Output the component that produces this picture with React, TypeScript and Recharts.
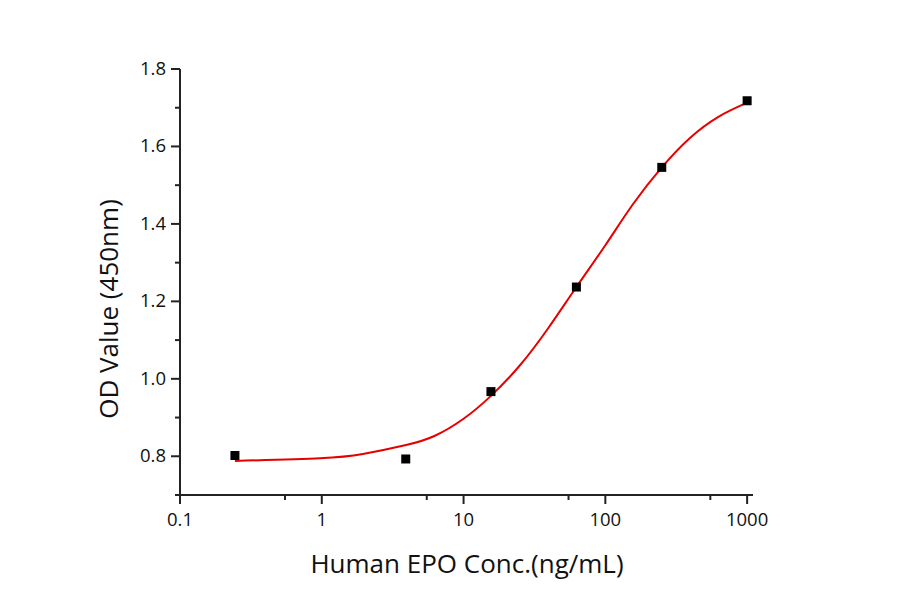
import { ComposedChart, Line, Scatter, XAxis, YAxis } from "recharts";

const FONT = "'Open Sans', Lato, sans-serif";
const AXIS_COLOR = "#222";

// measured points
const concentrations = [0.244, 3.91, 15.6, 62.5, 250, 1000];
const odValues = [0.802, 0.793, 0.967, 1.237, 1.546, 1.718];

// fitted curve
const fitConc = [0.244, 0.97, 1.95, 3.93, 6.28, 10, 15.6, 25, 39.4, 62.5, 100, 156, 250, 395, 623, 1000];
const fitOD = [0.788, 0.795, 0.806, 0.829, 0.853, 0.897, 0.956, 1.035, 1.13, 1.237, 1.345, 1.45, 1.546, 1.622, 1.676, 1.713];

const xMajorTicks = [0.1, 1, 10, 100, 1000];
const xMinorTicks = [0.55, 5.5, 55, 550];
const yMajorTicks = [0.8, 1.0, 1.2, 1.4, 1.6, 1.8];
const yMinorTicks = [0.7, 0.9, 1.1, 1.3, 1.5, 1.7];

const points = concentrations.map((x, i) => ({ x, y: odValues[i] }));
const curve = fitConc.map((x, i) => ({ x, y: fitOD[i] }));

const XTick = (props: any) => {
  const { x, y, payload } = props;
  const major = xMajorTicks.includes(payload.value);
  return (
    <g>
      <line x1={x} y1={y} x2={x} y2={y + (major ? 9 : 5)} stroke={AXIS_COLOR} strokeWidth={2} />
      {major && (
        <text x={x} y={y + 31} textAnchor="middle" fontSize={18.5} fontFamily={FONT} fill="#111">
          {String(payload.value)}
        </text>
      )}
    </g>
  );
};

const YTick = (props: any) => {
  const { x, y, payload } = props;
  const major = yMajorTicks.includes(payload.value);
  return (
    <g>
      <line x1={x} y1={y} x2={x - (major ? 9 : 5)} y2={y} stroke={AXIS_COLOR} strokeWidth={2} />
      {major && (
        <text x={x - 14} y={y + 6} textAnchor="end" fontSize={18.5} fontFamily={FONT} fill="#111">
          {payload.value.toFixed(1)}
        </text>
      )}
    </g>
  );
};

const Square = (props: any) => {
  const { cx, cy } = props;
  return <rect x={cx - 4.5} y={cy - 4.5} width={9} height={9} fill="#000" />;
};

export default function App() {
  return (
    <div style={{ position: "absolute", left: 0, top: 0, width: 900, height: 594, background: "#fff" }}>
      <ComposedChart width={900} height={594} margin={{ top: 69, right: 147, bottom: 0, left: 0 }}>
        <XAxis
          type="number"
          dataKey="x"
          scale="log"
          domain={[0.1, 1100]}
          allowDataOverflow
          ticks={[...xMajorTicks, ...xMinorTicks]}
          interval={0}
          tickSize={0}
          tickMargin={0}
          tick={<XTick />}
          height={99}
          axisLine={{ stroke: AXIS_COLOR, strokeWidth: 2 }}
          label={{
            content: ({ viewBox }: any) => (
              <text
                x={467}
                y={viewBox.y + 78}
                textAnchor="middle"
                fontSize={26}
                fontFamily={FONT}
                fill="#111"
              >
                Human EPO Conc.(ng/mL)
              </text>
            ),
          }}
        />
        <YAxis
          type="number"
          dataKey="y"
          domain={[0.7, 1.8]}
          allowDataOverflow
          ticks={[...yMajorTicks, ...yMinorTicks]}
          interval={0}
          tickSize={0}
          tickMargin={0}
          tick={<YTick />}
          width={180}
          axisLine={{ stroke: AXIS_COLOR, strokeWidth: 2 }}
          label={{
            content: ({ viewBox }: any) => (
              <text
                transform={`translate(118, ${viewBox.y + viewBox.height / 2 + 27}) rotate(-90)`}
                textAnchor="middle"
                fontSize={26}
                fontFamily={FONT}
                fill="#111"
              >
                OD Value (450nm)
              </text>
            ),
          }}
        />
        <Line
          data={curve}
          dataKey="y"
          type="natural"
          stroke="#e60000"
          strokeWidth={2}
          dot={false}
          activeDot={false}
          isAnimationActive={false}
        />
        <Scatter data={points} dataKey="y" shape={<Square />} isAnimationActive={false} />
      </ComposedChart>
    </div>
  );
}
